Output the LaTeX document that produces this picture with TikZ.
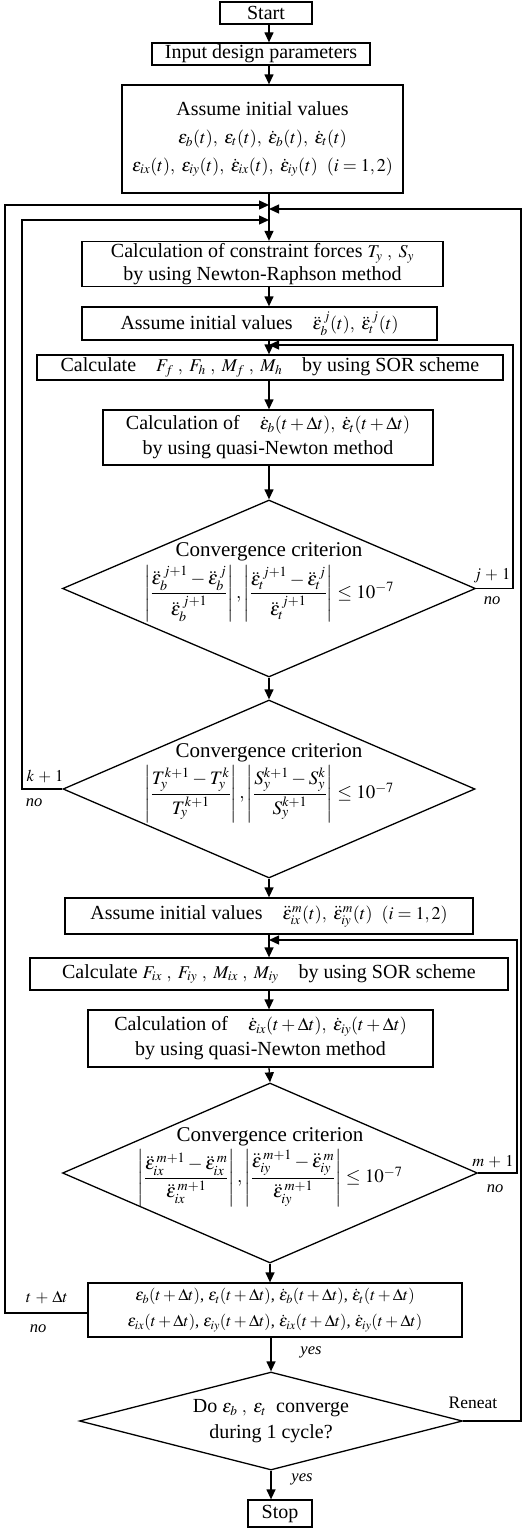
\documentclass[tikz,border=0pt]{standalone}
\usepackage{amsmath}
\usepackage{mathptmx}
\usepackage{fontspec}
\setmainfont{Liberation Serif}
\usetikzlibrary{arrows.meta,shapes.geometric}
\newcommand{\eps}{\varepsilon}
\newcommand{\mth}[1]{{\fontsize{18}{20}\selectfont$#1$}}
\begin{document}
\begin{tikzpicture}[x=1pt,y=-1pt,
  every path/.style={line width=1.3pt},
  box/.style={draw, line width=1.3pt, inner sep=0pt, align=center, font=\fontsize{20}{28}\selectfont},
  dia/.style={draw, diamond, line width=1.3pt, inner sep=0pt},
  dtext/.style={align=center, inner sep=0pt, font=\fontsize{19}{24}\selectfont},
  lab/.style={inner sep=1pt, font=\fontsize{16.5}{18}\selectfont},
  arr/.style={-{Triangle[length=10pt,width=9pt]}}]
\useasboundingbox (0,0) rectangle (523,1528);
\coordinate (mx) at (269,0);
% boxes
\node[box, minimum width=92, minimum height=22] (start) at (266,13) {Start};
\node[box, minimum width=218, minimum height=22] (input) at (261,54) {Input design parameters};
\node[box, minimum width=281, minimum height=108] (assume1) at (262.5,139)
  {Assume initial values\\ \mth{\eps_b(t),\ \eps_t(t),\ \dot\eps_b(t),\ \dot\eps_t(t)}\\
   \mth{\eps_{ix}(t),\ \eps_{iy}(t),\ \dot\eps_{ix}(t),\ \dot\eps_{iy}(t)\ \ (i=1,2)}};
\node[box, minimum width=361, minimum height=45, font=\fontsize{20}{23}\selectfont] (constraint) at (262.5,264)
  {Calculation of constraint forces \mth{T_y\ ,\ S_y}\\ by using Newton-Raphson method};
\node[box, minimum width=355, minimum height=33] (assume2) at (259.5,323.5)
  {Assume initial values\quad \mth{\ddot\eps_b^{\,j}(t),\ \ddot\eps_t^{\,j}(t)}};
\node[box, minimum width=466, minimum height=25] (calcF) at (270,367.5)
  {Calculate\quad \mth{F_f\ ,\ F_h\ ,\ M_f\ ,\ M_h}\quad by using SOR scheme};
\node[box, minimum width=330, minimum height=55, font=\fontsize{20}{25}\selectfont] (calcof1) at (268,437.5)
  {Calculation of\quad \mth{\dot\eps_b(t+\Delta t),\ \dot\eps_t(t+\Delta t)}\\ by using quasi-Newton method};
% diamond 1
\node[dia, minimum width=413, minimum height=177] (d1) at (269,588.5) {};
\node[dtext] (d1t) at ([yshift=6pt]d1.center) {{\fontsize{21}{24}\selectfont Convergence criterion}\\[3pt]
  $\left|\dfrac{\ddot\eps_b^{\,j+1}-\ddot\eps_b^{\,j}}{\ddot\eps_b^{\,j+1}}\right|,
   \left|\dfrac{\ddot\eps_t^{\,j+1}-\ddot\eps_t^{\,j}}{\ddot\eps_t^{\,j+1}}\right|\le 10^{-7}$};
% diamond 2
\node[dia, minimum width=412, minimum height=178] (d2) at (269,789) {};
\node[dtext] (d2t) at ([yshift=6pt]d2.center) {{\fontsize{21}{24}\selectfont Convergence criterion}\\[3pt]
  $\left|\dfrac{T_y^{k+1}-T_y^{k}}{T_y^{k+1}}\right|,
   \left|\dfrac{S_y^{k+1}-S_y^{k}}{S_y^{k+1}}\right|\le 10^{-7}$};
\node[box, minimum width=408, minimum height=36] (assume3) at (269,916)
  {Assume initial values\quad \mth{\ddot\eps_{ix}^{m}(t),\ \ddot\eps_{iy}^{m}(t)\ \ (i=1,2)}};
\node[box, minimum width=478, minimum height=32] (calcF2) at (269,974)
  {Calculate \mth{F_{ix}\ ,\ F_{iy}\ ,\ M_{ix}\ ,\ M_{iy}}\quad by using SOR scheme};
\node[box, minimum width=345, minimum height=57, font=\fontsize{20}{25}\selectfont] (calcof2) at (260.5,1038.5)
  {Calculation of\quad \mth{\dot\eps_{ix}(t+\Delta t),\ \dot\eps_{iy}(t+\Delta t)}\\ by using quasi-Newton method};
% diamond 3
\node[dia, minimum width=415, minimum height=180] (d3) at (270,1173) {};
\node[dtext] (d3t) at ([yshift=6pt]d3.center) {{\fontsize{21}{24}\selectfont Convergence criterion}\\[3pt]
  $\left|\dfrac{\ddot\eps_{ix}^{\,m+1}-\ddot\eps_{ix}^{\,m}}{\ddot\eps_{ix}^{\,m+1}}\right|,
   \left|\dfrac{\ddot\eps_{iy}^{\,m+1}-\ddot\eps_{iy}^{\,m}}{\ddot\eps_{iy}^{\,m+1}}\right|\le 10^{-7}$};
\node[box, minimum width=374, minimum height=54, font=\fontsize{16.5}{26}\selectfont] (result) at (275,1310)
  {$\eps_b(t+\Delta t)$, $\eps_t(t+\Delta t)$, $\dot\eps_b(t+\Delta t)$, $\dot\eps_t(t+\Delta t)$\\
   $\eps_{ix}(t+\Delta t)$, $\eps_{iy}(t+\Delta t)$, $\dot\eps_{ix}(t+\Delta t)$, $\dot\eps_{iy}(t+\Delta t)$};
% diamond 4
\node[dia, minimum width=383, minimum height=98] (d4) at (271,1421) {};
\node[dtext, font=\fontsize{20}{26}\selectfont] (d4t) at (d4.center) {Do \mth{\eps_b\ ,\ \eps_t}\ \ converge\\ during 1 cycle?};
\node[box, minimum width=64, minimum height=27] (stop) at (280,1513.5) {Stop};
% trunk
\draw[arr] (start.south -| mx) -- (input.north -| mx);
\draw[arr] (input.south -| mx) -- (assume1.north -| mx);
\draw[arr] (assume1.south -| mx) -- (constraint.north -| mx);
\draw[arr] (constraint.south -| mx) -- (assume2.north -| mx);
\draw[arr] (assume2.south -| mx) -- (calcF.north -| mx);
\draw[arr] (calcF.south -| mx) -- (calcof1.north -| mx);
\draw[arr] (calcof1.south -| mx) -- (d1.north -| mx);
\draw[arr] (d1.south -| mx) -- (d2.north -| mx);
\draw[arr] (d2.south -| mx) -- (assume3.north -| mx);
\draw[arr] (assume3.south -| mx) -- (calcF2.north -| mx);
\draw[arr] (calcF2.south -| mx) -- (calcof2.north -| mx);
\draw[arr] (calcof2.south -| mx) -- (d3.north);
\draw[arr] (d3.south) -- (result.north -| d3.south);
\draw[arr] (result.south -| d4.north) -- (d4.north);
\draw[arr] (d4.south) -- (stop.north -| d4.south);
% loops
\coordinate (m1) at (269,205);
\coordinate (m2) at (269,220);
\coordinate (m3) at (269,209);
\coordinate (ol) at (5,205);
\coordinate (il) at (22,220);
\coordinate (orr) at (521,209);
\coordinate (jr) at (513,345);
\coordinate (mj) at (269,345);
\coordinate (mr) at (517,940);
\coordinate (mm) at (269,940);
\coordinate (rw) at (88,1313);
\draw[arr] (rw) -| (ol) -- (m1);
\draw[arr] (d2.west) -| (il) -- (m2);
\draw[arr] (d4.east) -| (orr) -- (m3);
\draw[arr] (d1.east) -| (jr) -- (mj);
\draw[arr] (d3.east) -| (mr) -- (mm);
% labels
\node[lab] (lj) at (492,576) {$j\,+\,1$};
\node[lab] (ljn) at (492,601) {\textit{no}};
\node[lab] (lk) at (45,776) {$k\,+\,1$};
\node[lab] (lkn) at (34,803) {\textit{no}};
\node[lab] (lm) at (493,1162) {$m\,+\,1$};
\node[lab] (lmn) at (495,1189) {\textit{no}};
\node[lab] (lt) at (47,1298) {$t\,+\,\Delta t$};
\node[lab] (ltn) at (38,1329) {\textit{no}};
\node[lab] (ly1) at (311,1352) {\textit{yes}};
\node[lab] (ly2) at (302,1479) {\textit{yes}};
\node[lab, font=\fontsize{17.5}{19}\selectfont] (lr) at (473,1403) {Reneat};
\end{tikzpicture}
\end{document}
